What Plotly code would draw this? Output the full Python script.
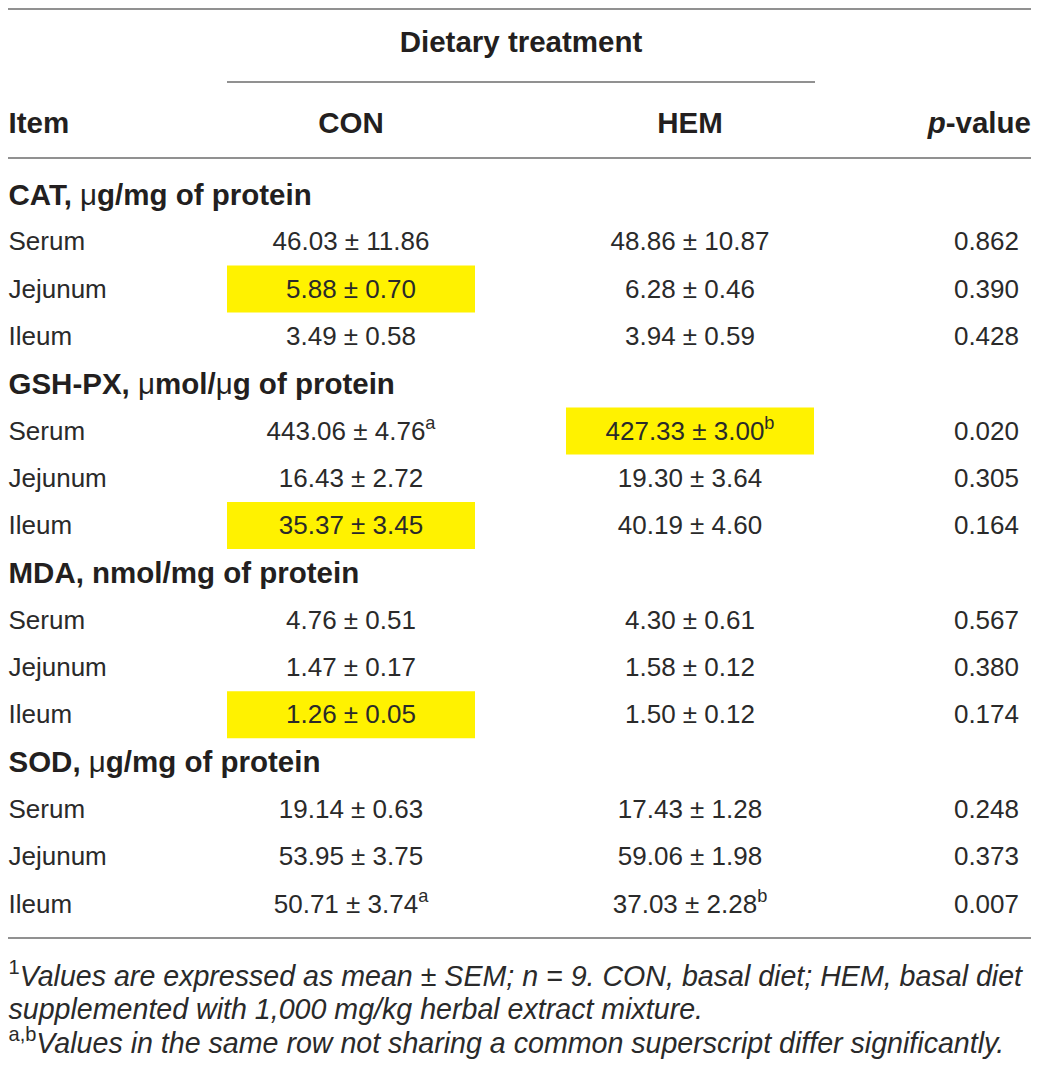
import plotly.graph_objects as go

# table content
groups = ["CAT, μg/mg of protein", "GSH-PX, μmol/μg of protein",
          "MDA, nmol/mg of protein", "SOD, μg/mg of protein"]
group_keys = ["CAT", "GSH-PX", "MDA", "SOD"]
tissues = ["Serum", "Jejunum", "Ileum"]
con_mean = [46.03, 5.88, 3.49, 443.06, 16.43, 35.37, 4.76, 1.47, 1.26, 19.14, 53.95, 50.71]
con_sem = [11.86, 0.70, 0.58, 4.76, 2.72, 3.45, 0.51, 0.17, 0.05, 0.63, 3.75, 3.74]
hem_mean = [48.86, 6.28, 3.94, 427.33, 19.30, 40.19, 4.30, 1.58, 1.50, 17.43, 59.06, 37.03]
hem_sem = [10.87, 0.46, 0.59, 3.00, 3.64, 4.60, 0.61, 0.12, 0.12, 1.28, 1.98, 2.28]
con_sup = ["", "", "", "a", "", "", "", "", "", "", "", "a"]
hem_sup = ["", "", "", "b", "", "", "", "", "", "", "", "b"]
p_values = ["0.862", "0.390", "0.428", "0.020", "0.305", "0.164",
            "0.567", "0.380", "0.174", "0.248", "0.373", "0.007"]
highlight = [("CAT", "Jejunum", "CON"), ("GSH-PX", "Serum", "HEM"),
             ("GSH-PX", "Ileum", "CON"), ("MDA", "Ileum", "CON")]
footnotes = [
    "<sup>1</sup><i>Values are expressed as mean ± SEM; n = 9. CON, basal diet; HEM, basal diet</i>",
    "<i>supplemented with 1,000 mg/kg herbal extract mixture.</i>",
    "<sup>a,b</sup><i>Values in the same row not sharing a common superscript differ significantly.</i>",
]

# the page body has an 8px margin: keep the figure inside it and shift the axes
PAD = 8
W, H = 1039 - 2 * PAD, 1068 - 2 * PAD
FONT = "Liberation Sans, Arial, Helvetica, sans-serif"
INK = "#231f20"
BODY = "#2a2a2a"
RULE = "#6d6d6d"
YELLOW = "#fff200"

x_item, x_con, x_hem, x_p = 8.5, 351, 690, 1019
row0, step = 196.5, 47.3
half_w = 124

# flatten rows
group_y, group_txt = [], []
tissue_y, tissue_txt = [], []
i = 0
for name in groups:
    group_y.append(row0 + i * step + 1)
    key, unit = name.split(", ", 1)
    unit = unit.replace("μ", "<span style='font-weight:normal'>μ</span>")
    group_txt.append("<b>" + key + ", " + unit + "</b>")
    i += 1
    for t in tissues:
        tissue_y.append(row0 + i * step)
        tissue_txt.append(t)
        i += 1

con_txt = [f"{m:.2f} ± {s:.2f}" + (f"<sup>{u}</sup>" if u else "")
           for m, s, u in zip(con_mean, con_sem, con_sup)]
hem_txt = [f"{m:.2f} ± {s:.2f}" + (f"<sup>{u}</sup>" if u else "")
           for m, s, u in zip(hem_mean, hem_sem, hem_sup)]

fig = go.Figure()

shapes = []
for gk, t, col in highlight:
    k = group_keys.index(gk) * 3 + tissues.index(t)
    yc = tissue_y[k] - 2
    xc = x_con if col == "CON" else x_hem
    shapes.append(dict(type="rect", xref="x", yref="y", x0=xc - half_w, x1=xc + half_w,
                       y0=yc - 23.5, y1=yc + 23.5, fillcolor=YELLOW, line_width=0, layer="below"))

# rules
for y, x0, x1 in [(9, 5, 1034), (82, 227, 815), (158, 5, 1034), (938, 5, 1034)]:
    shapes.append(dict(type="line", xref="x", yref="y", x0=x0, x1=x1, y0=y, y1=y,
                       line=dict(color=RULE, width=1.5)))

tf = dict(family=FONT, size=26, color=BODY)
hf = dict(family=FONT, size=29.5, color=INK)

fig.add_trace(go.Scatter(x=[x_item] * len(group_y), y=group_y, text=group_txt,
                         mode="text", textposition="middle right", textfont=hf))
fig.add_trace(go.Scatter(x=[x_item] * len(tissue_y), y=tissue_y, text=tissue_txt,
                         mode="text", textposition="middle right", textfont=tf))
fig.add_trace(go.Scatter(x=[x_con] * len(tissue_y), y=tissue_y, text=con_txt,
                         mode="text", textposition="middle center", textfont=tf))
fig.add_trace(go.Scatter(x=[x_hem] * len(tissue_y), y=tissue_y, text=hem_txt,
                         mode="text", textposition="middle center", textfont=tf))
fig.add_trace(go.Scatter(x=[x_p] * len(tissue_y), y=tissue_y, text=p_values,
                         mode="text", textposition="middle left", textfont=tf))

# header
fig.add_trace(go.Scatter(x=[521], y=[45], text=["<b>Dietary treatment</b>"],
                         mode="text", textposition="middle center", textfont=hf))
fig.add_trace(go.Scatter(x=[x_item, x_con, x_hem], y=[126] * 3,
                         text=["<b>Item</b>", "<b>CON</b>", "<b>HEM</b>"],
                         mode="text", textposition=["middle right", "middle center", "middle center"],
                         textfont=hf))
fig.add_trace(go.Scatter(x=[1031], y=[126], text=["<b><i>p</i>-value</b>"],
                         mode="text", textposition="middle left", textfont=hf))

# footnotes
fig.add_trace(go.Scatter(x=[8.5] * 3, y=[979, 1012, 1046], text=footnotes,
                         mode="text", textposition="middle right",
                         textfont=dict(family=FONT, size=28.6, color=BODY)))

fig.update_traces(cliponaxis=False)
fig.update_layout(
    width=W, height=H, margin=dict(l=0, r=0, t=0, b=0),
    plot_bgcolor="white", paper_bgcolor="white", showlegend=False,
    xaxis=dict(range=[PAD, PAD + W], visible=False, fixedrange=True),
    yaxis=dict(range=[PAD + H, PAD], visible=False, fixedrange=True),
    shapes=shapes,
)
fig.write_html("out.html")
